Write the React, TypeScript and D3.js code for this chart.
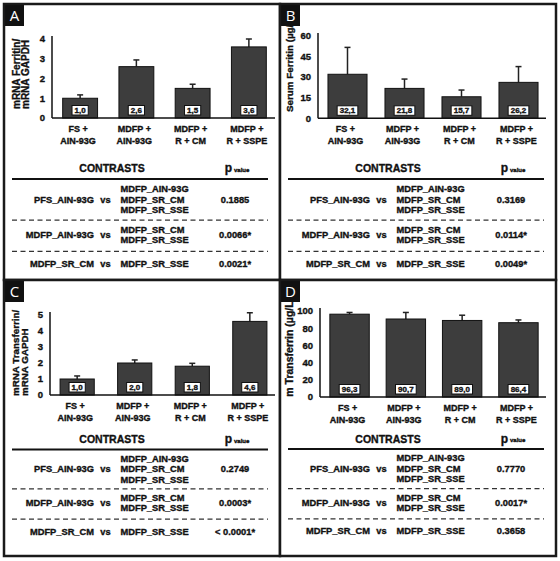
import * as d3 from "d3";

// group labels (two lines under each bar)
const groupTop = ["FS +", "MDFP +", "MDFP +", "MDFP +"];
const groupBottom = ["AIN-93G", "AIN-93G", "R + CM", "R + SSPE"];

// A: ferritin mRNA
const ferritinMrna = [1.0, 2.6, 1.5, 3.6];
const ferritinMrnaSem = [0.17, 0.34, 0.21, 0.4];
const ferritinMrnaTicks = [0, 1, 2, 3, 4];

// B: serum ferritin
const serumFerritin = [32.1, 21.8, 15.7, 26.2];
const serumFerritinSem = [19.6, 6.8, 4.9, 11.5];
const serumFerritinTicks = [0, 15, 30, 45, 60];

// C: transferrin mRNA
const transferrinMrna = [1.0, 2.0, 1.8, 4.6];
const transferrinMrnaSem = [0.19, 0.19, 0.18, 0.54];
const transferrinMrnaTicks = [0, 1, 2, 3, 4, 5];

// D: serum transferrin
const serumTransferrin = [96.3, 90.7, 89.0, 86.4];
const serumTransferrinSem = [2.0, 7.6, 6.1, 3.2];
const serumTransferrinTicks = [0, 20, 40, 60, 80, 100];

// contrasts table
const contrastLeft = ["PFS_AIN-93G", "MDFP_AIN-93G", "MDFP_SR_CM"];
const contrastRight = [
  ["MDFP_AIN-93G", "MDFP_SR_CM", "MDFP_SR_SSE"],
  ["MDFP_SR_CM", "MDFP_SR_SSE"],
  ["MDFP_SR_SSE"],
];
const pFerritinMrna = ["0.1885", "0.0066*", "0.0021*"];
const pSerumFerritin = ["0.3169", "0.0114*", "0.0049*"];
const pTransferrinMrna = ["0.2749", "0.0003*", "< 0.0001*"];
const pSerumTransferrin = ["0.7770", "0.0017*", "0.3658"];

const FONT = "'Liberation Sans', Arial, Helvetica, sans-serif";
const BAR = "#3d3d3d";
const INK = "#111";
// the scanned figure has heavy, slightly smeared type
const heavy = { stroke: INK, strokeWidth: 0.35 };

type PanelProps = {
  id: string;
  letter: string;
  x0: number;
  y0: number;
  values: number[];
  sem: number[];
  ticks: number[];
  yLabel: string[];
  labelX: number[];
  labelY: number;
  labelSize: number;
  clipBottom: number;
  axisX: number;
  plotRight: number;
  yTop: number;
  yBase: number;
  padIn: number;
  padOut: number;
  tableY: number;
  gap: number;
  pValues: string[];
};

function Panel(p: PanelProps) {
  const x = d3
    .scaleBand<number>()
    .domain(d3.range(p.values.length))
    .range([p.axisX, p.plotRight])
    .paddingInner(p.padIn)
    .paddingOuter(p.padOut);
  const y = d3
    .scaleLinear()
    .domain([0, p.ticks[p.ticks.length - 1]])
    .range([p.yBase, p.yTop]);
  const bw = x.bandwidth();
  const fmt = (v: number) => v.toFixed(1).replace(".", ",");

  const t = p.tableY;
  const g = p.gap;
  const cx = {
    lineStart: p.x0 + 8,
    lineEnd: p.x0 + 264,
    leftEnd: p.x0 + 90,
    vs: p.x0 + 101.5,
    right: p.x0 + 116.5,
    p: p.x0 + 231,
    head: p.x0 + 108,
  };
  const rowRight = [
    [1.9, 2.9, 3.9],
    [5.7, 6.65],
    [8.9],
  ];
  const rowMid = [2.9, 6.17, 8.9];
  const dashes = [4.8, 7.7];

  return (
    <g>
      <defs>
        <clipPath id={`clip-${p.id}`}>
          <rect x={p.x0 + 2} y={p.y0 + 2} width={272} height={p.clipBottom - p.y0 - 2} />
        </clipPath>
      </defs>
      <rect x={p.x0} y={p.y0} width={276} height={276} fill="#fff" />

      {/* y label */}
      <g clipPath={`url(#clip-${p.id})`}>
        {p.yLabel.map((s, i) => (
          <text
            key={i}
            transform={`translate(${p.labelX[i]},${p.labelY}) rotate(-90)`}
            fontFamily={FONT}
            fontWeight="bold"
            fontSize={p.labelSize}
            fill={INK}
            {...heavy}
          >
            {s}
          </text>
        ))}
      </g>

      {/* y ticks */}
      {p.ticks.map((tk) => (
        <text
          key={tk}
          x={p.axisX - 7}
          y={y(tk)}
          dy="0.35em"
          textAnchor="end"
          fontFamily={FONT}
          fontWeight="bold"
          fontSize={9.5}
          fill={INK}
          {...heavy}
        >
          {tk}
        </text>
      ))}

      {/* bars */}
      {p.values.map((v, i) => {
        const bx = x(i)!;
        const mid = bx + bw / 2;
        const top = y(v);
        const errTop = y(v + p.sem[i]);
        const lbl = fmt(v);
        const lw = 5 + lbl.replace(",", "").length * 4.5 + 2.2;
        return (
          <g key={i}>
            <line x1={mid} x2={mid} y1={top} y2={errTop} stroke="#222" strokeWidth={1.5} />
            <line x1={mid - 3} x2={mid + 3} y1={errTop} y2={errTop} stroke="#222" strokeWidth={1.5} />
            <rect x={bx} y={top} width={bw} height={p.yBase - top} fill={BAR} stroke={INK} strokeWidth={1} />
            <rect
              x={mid - lw / 2}
              y={p.yBase - 12.5}
              width={lw}
              height={9.5}
              fill="#fff"
              stroke={INK}
              strokeWidth={1}
            />
            <text
              x={mid}
              y={p.yBase - 7.7}
              dy="0.35em"
              textAnchor="middle"
              fontFamily={FONT}
              fontWeight="bold"
              fontSize={8}
              fill={INK}
              {...heavy}
            >
              {lbl}
            </text>
            <text
              x={mid - 2}
              y={p.yBase + 11}
              dy="0.35em"
              textAnchor="middle"
              fontFamily={FONT}
              fontWeight="bold"
              fontSize={9}
              fill={INK}
              {...heavy}
            >
              {groupTop[i]}
            </text>
            <text
              x={mid - 2}
              y={p.yBase + 22.5}
              dy="0.35em"
              textAnchor="middle"
              fontFamily={FONT}
              fontWeight="bold"
              fontSize={9}
              fill={INK}
              {...heavy}
            >
              {groupBottom[i]}
            </text>
          </g>
        );
      })}

      {/* axes */}
      <line x1={p.axisX} x2={p.axisX} y1={p.yBase} y2={p.yTop - 3} stroke={INK} strokeWidth={1.5} />
      <line x1={p.axisX} x2={p.plotRight - 2} y1={p.yBase} y2={p.yBase} stroke={INK} strokeWidth={1.5} />

      {/* contrasts table */}
      <g fontFamily={FONT} fontWeight="bold" fill={INK} {...heavy}>
        <text x={cx.head} y={t} dominantBaseline="central" textAnchor="middle" fontSize={10.5}>
          CONTRASTS
        </text>
        <text x={cx.p + 2} y={t} dominantBaseline="central" textAnchor="middle">
          <tspan fontSize={12}>p</tspan>
          <tspan fontSize={6} dx={2} dy={1.5}>
            value
          </tspan>
        </text>
        {contrastLeft.map((s, r) => (
          <g key={r} fontSize={9.3}>
            <text x={cx.leftEnd} y={t + rowMid[r] * g} dominantBaseline="central" textAnchor="end">
              {s}
            </text>
            <text x={cx.vs} y={t + rowMid[r] * g} dominantBaseline="central" textAnchor="middle">
              vs
            </text>
            {contrastRight[r].map((c, k) => (
              <text key={k} x={cx.right} y={t + rowRight[r][k] * g} dominantBaseline="central">
                {c}
              </text>
            ))}
            <text x={cx.p} y={t + rowMid[r] * g} dominantBaseline="central" textAnchor="middle">
              {p.pValues[r]}
            </text>
          </g>
        ))}
      </g>
      <line x1={cx.lineStart} x2={cx.lineEnd} y1={t + g} y2={t + g} stroke={INK} strokeWidth={2} />
      {dashes.map((d) => (
        <line
          key={d}
          x1={cx.lineStart}
          x2={cx.lineEnd}
          y1={t + d * g}
          y2={t + d * g}
          stroke="#333"
          strokeWidth={1.3}
          strokeDasharray="5 3.5"
        />
      ))}

      {/* panel letter */}
      <rect x={p.x0 + 1} y={p.y0 + 1} width={19} height={21} fill={INK} />
      <text
        x={p.x0 + 10.5}
        y={p.y0 + 12}
        dy="0.36em"
        textAnchor="middle"
        fontFamily="'Open Sans', 'DejaVu Sans', sans-serif"
        fontSize={15}
        fill="#fff"
      >
        {p.letter}
      </text>
      <rect x={p.x0} y={p.y0} width={276} height={276} fill="none" stroke="#1a1a1a" strokeWidth={2.5} />
    </g>
  );
}

export default function App() {
  return (
    <svg
      width={560}
      height={561}
      style={{ position: "absolute", left: 0, top: 0, background: "#fff" }}
    >
      <rect width={560} height={561} fill="#fff" />
      <Panel
        id="a"
        letter="A"
        x0={4}
        y0={4}
        values={ferritinMrna}
        sem={ferritinMrnaSem}
        ticks={ferritinMrnaTicks}
        yLabel={["mRNA Ferritin/", "mRNA GAPDH"]}
        labelX={[20, 29]}
        labelY={109}
        labelSize={10}
        clipBottom={280}
        axisX={52}
        plotRight={277}
        yTop={39}
        yBase={118}
        padIn={0.38}
        padOut={0.19}
        tableY={168.3}
        gap={10.8}
        pValues={pFerritinMrna}
      />
      <Panel
        id="b"
        letter="B"
        x0={280}
        y0={4}
        values={serumFerritin}
        sem={serumFerritinSem}
        ticks={serumFerritinTicks}
        yLabel={["Serum Ferritin (µg/l)"]}
        labelX={[293]}
        labelY={112}
        labelSize={9.8}
        clipBottom={280}
        axisX={318}
        plotRight={548}
        yTop={36}
        yBase={118.3}
        padIn={0.315}
        padOut={0.175}
        tableY={168.3}
        gap={10.8}
        pValues={pSerumFerritin}
      />
      <Panel
        id="c"
        letter="C"
        x0={4}
        y0={280}
        values={transferrinMrna}
        sem={transferrinMrnaSem}
        ticks={transferrinMrnaTicks}
        yLabel={["mRNA Transferrin/", "mRNA GAPDH"]}
        labelX={[19, 28]}
        labelY={396}
        labelSize={9.8}
        clipBottom={556}
        axisX={50}
        plotRight={277}
        yTop={315}
        yBase={395}
        padIn={0.406}
        padOut={0.175}
        tableY={439}
        gap={10.4}
        pValues={pTransferrinMrna}
      />
      <Panel
        id="d"
        letter="D"
        x0={280}
        y0={280}
        values={serumTransferrin}
        sem={serumTransferrinSem}
        ticks={serumTransferrinTicks}
        yLabel={["Serum Transferrin (µg/L)"]}
        labelX={[293]}
        labelY={420}
        labelSize={10.5}
        clipBottom={397}
        axisX={320}
        plotRight={548}
        yTop={311}
        yBase={397}
        padIn={0.3}
        padOut={0.175}
        tableY={438.7}
        gap={10.4}
        pValues={pSerumTransferrin}
      />
    </svg>
  );
}
